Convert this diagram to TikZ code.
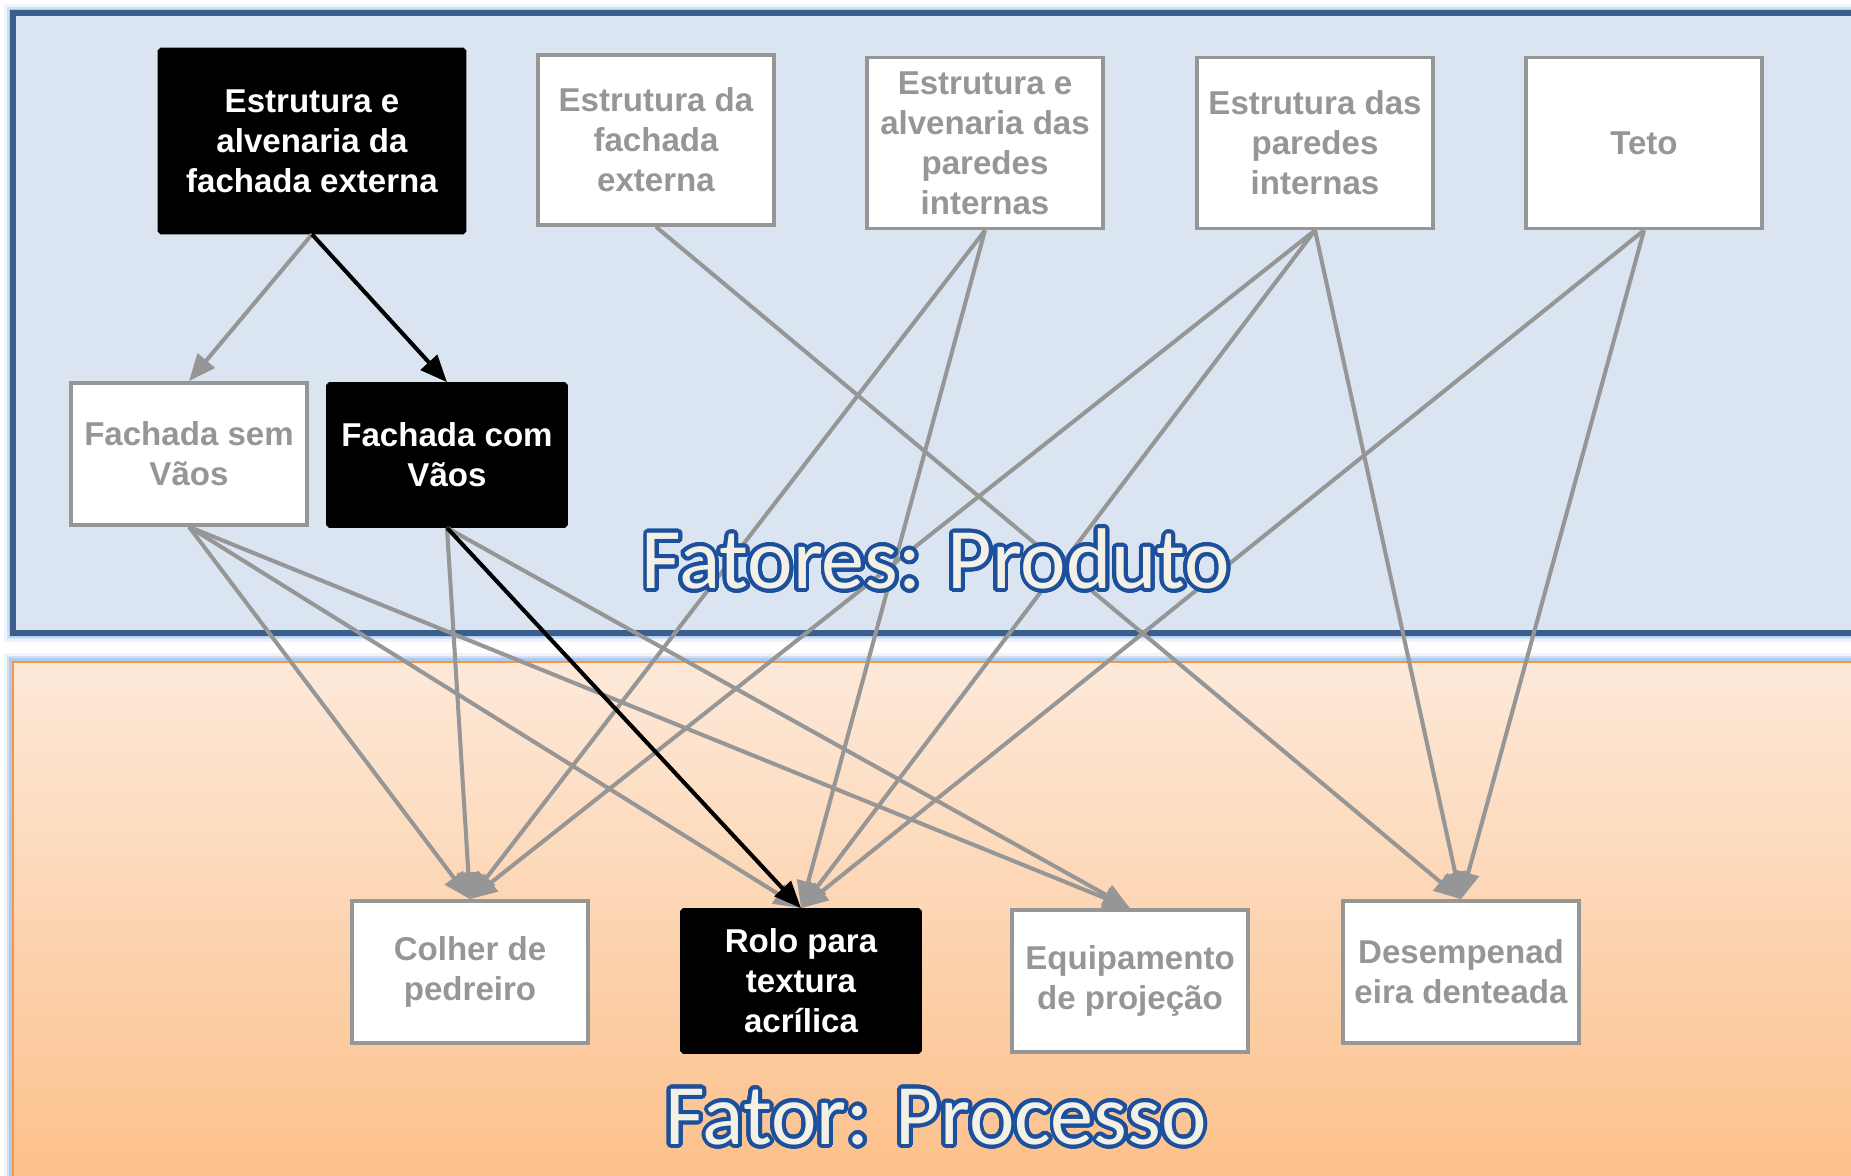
\documentclass[tikz,border=0pt]{standalone}
\usepackage{fontspec}
\setmainfont{Liberation Sans}
\newfontfamily\titlefont{Carlito}
\usepackage{contour}
\contourlength{1.1pt}
\contournumber{32}
\usetikzlibrary{arrows.meta}
\definecolor{boxgray}{HTML}{969696}
\definecolor{prodfill}{HTML}{DBE5F1}
\definecolor{prodline}{HTML}{3A5F8D}
\definecolor{glowblue}{HTML}{8DB4E2}
\definecolor{proctop}{HTML}{FDE9D9}
\definecolor{procbot}{HTML}{FCBF88}
\definecolor{procline}{HTML}{F79646}
\definecolor{titleblue}{HTML}{1C4F9C}
\definecolor{titlefill}{HTML}{F3F0E6}
\begin{document}
\begin{tikzpicture}[x=0.01cm, y=-0.01cm,
  pbox/.style={draw=boxgray, line width=1pt, fill=white, text=boxgray,
    font=\bfseries\fontsize{9.4}{11.4}\selectfont, align=center,
    minimum width=2.36cm, minimum height=1.42cm, inner sep=0pt},
  kbox/.style={pbox, draw=black, fill=black, text=white, rounded corners=0.5pt},
  gedge/.style={draw=boxgray, line width=1.15pt, -{Triangle[length=0.27cm, width=0.22cm]}},
  kedge/.style={gedge, draw=black},
  ptitle/.style={font=\titlefont\fontsize{24.5}{28}\selectfont, text=titlefill}]
\clip (0,0) rectangle (1851,1175);
% panels
\foreach \w/\o in {5/0.15,3.4/0.3,2/0.5}{
  \draw[glowblue, opacity=\o, line width=\w pt] (13,13) rectangle (1870,633);
  \draw[glowblue, opacity=\o, line width=\w pt] (13,662) rectangle (1870,1195);
}
\draw[fill=prodfill, draw=prodline, line width=1.6pt] (13,13) rectangle (1870,633);
\shade[top color=proctop, bottom color=procbot] (13,662) rectangle (1870,1195);
\draw[procline, line width=0.8pt] (13,662) rectangle (1870,1195);
% produto
\node[kbox, minimum width=3.05cm, minimum height=1.83cm] (prod0) at (312,141) {Estrutura e\\alvenaria da\\fachada externa};
\node[pbox, minimum height=1.70cm] (prod1) at (656,140) {Estrutura da\\fachada\\externa};
\node[pbox, minimum height=1.71cm] (prod2) at (985,143) {Estrutura e\\alvenaria das\\paredes\\internas};
\node[pbox, minimum height=1.71cm] (prod3) at (1315,143) {Estrutura das\\paredes\\internas};
\node[pbox, minimum height=1.71cm] (prod4) at (1644,143) {Teto};
\node[pbox] (fach0) at (189,454) {Fachada sem\\Vãos};
\node[kbox, minimum width=2.38cm] (fach1) at (447,455) {Fachada com\\Vãos};
% processo
\node[pbox] (proc0) at (470,972) {Colher de\\pedreiro};
\node[kbox, minimum width=2.38cm] (proc1) at (801,981) {Rolo para\\textura\\acrílica};
\node[pbox] (proc2) at (1130,981) {Equipamento\\de projeção};
\node[pbox] (proc3) at (1461,972) {Desempenad\\eira denteada};
% ligacoes
\draw[gedge](prod0.south) -- (fach0.north);
\draw[gedge](prod1.south) -- (proc3.north);
\draw[gedge](prod2.south) -- (proc0.north);
\draw[gedge](prod2.south) -- (proc1.north);
\draw[gedge](prod3.south) -- (proc0.north);
\draw[gedge](prod3.south) -- (proc1.north);
\draw[gedge](prod3.south) -- (proc3.north);
\draw[gedge](prod4.south) -- (proc1.north);
\draw[gedge](prod4.south) -- (proc3.north);
\draw[gedge](fach0.south) -- (proc0.north);
\draw[gedge](fach0.south) -- (proc1.north);
\draw[gedge](fach0.south) -- (proc2.north);
\draw[gedge](fach1.south) -- (proc0.north);
\draw[gedge](fach1.south) -- (proc2.north);
\draw[kedge](prod0.south) -- (fach1.north);
\draw[kedge](fach1.south) -- (proc1.north);
% titulos
\node[ptitle] (tprod) at (936,561) {\contour{titleblue}{Fatores: Produto}};
\node[ptitle] (tproc) at (936,1119) {\contour{titleblue}{Fator: Processo}};
\end{tikzpicture}
\end{document}
